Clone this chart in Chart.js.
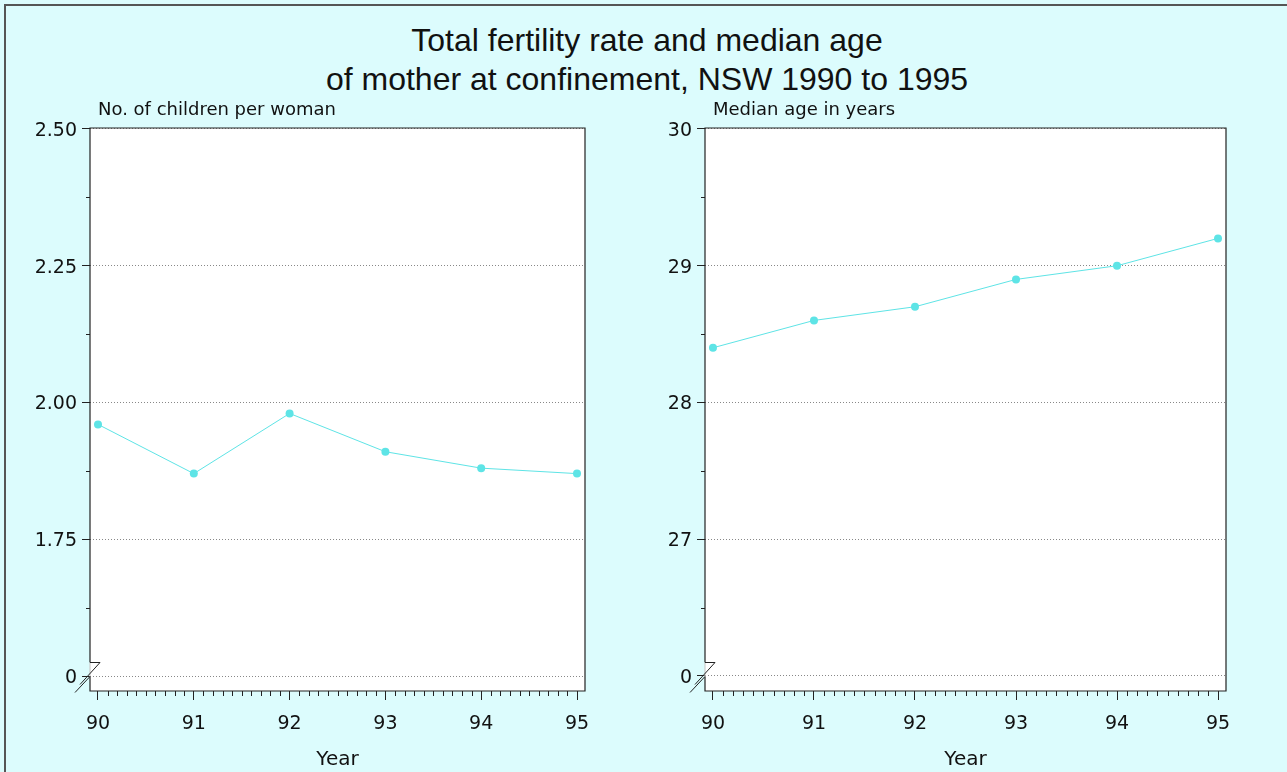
<!DOCTYPE html>
<html>
<head>
<meta charset="utf-8">
<title>Total fertility rate and median age</title>
<script src="https://cdn.jsdelivr.net/npm/chart.js@4.4.1/dist/chart.umd.min.js"></script>
<style>
  html, body { margin: 0; padding: 0; }
  body {
    width: 1287px; height: 772px; overflow: hidden; position: relative;
    background: #dcfcfd; font-family: "Liberation Sans", Arial, sans-serif;
  }
  #frame {
    position: absolute; left: 4px; top: 4px; width: 1300px; height: 800px;
    border-top: 2px solid #555; border-left: 2px solid #555;
  }
  #title {
    position: absolute; left: 0; top: 21px; width: 1294px;
    text-align: center; font-size: 32px; line-height: 39px; color: #111;
  }
  canvas { position: absolute; top: 95px; }
  #fertilityChart { left: 0; }
  #ageChart { left: 615px; }
</style>
</head>
<body>
<div id="frame"></div>
<div id="title">Total fertility rate and median age<br>of mother at confinement, NSW 1990 to 1995</div>
<canvas id="fertilityChart" width="640" height="677"></canvas>
<canvas id="ageChart" width="672" height="677"></canvas>
<script>
const years = [90, 91, 92, 93, 94, 95];
const fertilityRate = [1.96, 1.87, 1.98, 1.91, 1.88, 1.87];
const medianAge = [28.4, 28.6, 28.7, 28.9, 29.0, 29.2];

// the lowest tick is the axis break, printed as "0"
const fertilityTicks = [1.5, 1.75, 2.0, 2.25, 2.5];
const fertilityLabels = ["0", "1.75", "2.00", "2.25", "2.50"];
const ageTicks = [26, 27, 28, 29, 30];
const ageLabels = ["0", "27", "28", "29", "30"];

const LINE_COLOR = "#5ee4e6";
const INK = "#222";
const TICK_FONT = { family: "DejaVu Sans", size: 19 };

// white plot area, frame, minor ticks, axis break and the small axis caption
const panelDecor = {
  id: "panelDecor",
  beforeDraw(chart) {
    const { ctx, chartArea: a } = chart;
    ctx.save();
    ctx.fillStyle = "#fff";
    ctx.fillRect(a.left, a.top, a.right - a.left, a.bottom - a.top);
    ctx.restore();
  },
  afterDraw(chart, args, opts) {
    const { ctx, chartArea: a, scales } = chart;
    const L = a.left;
    const y0 = Math.round(scales.y.getPixelForValue(opts.ticks[0])) + 0.5;
    const gapTop = y0 - 14;

    ctx.save();
    ctx.strokeStyle = INK;
    ctx.lineWidth = 1.2;

    // frame, left side broken near the bottom
    ctx.beginPath();
    ctx.moveTo(L, gapTop);
    ctx.lineTo(L, a.top);
    ctx.lineTo(a.right, a.top);
    ctx.lineTo(a.right, a.bottom);
    ctx.lineTo(L, a.bottom);
    ctx.lineTo(L, y0);
    ctx.stroke();

    ctx.strokeStyle = "#ccc";
    ctx.beginPath();
    ctx.moveTo(L, gapTop);
    ctx.lineTo(L, y0);
    ctx.stroke();

    // break marks
    ctx.strokeStyle = INK;
    ctx.lineWidth = 1;
    ctx.beginPath();
    ctx.moveTo(L, gapTop);
    ctx.lineTo(L + 10, gapTop);
    ctx.lineTo(L - 10, y0 + 8);
    ctx.moveTo(L, y0);
    ctx.lineTo(L - 15, y0 + 16);
    ctx.stroke();

    // minor ticks
    ctx.beginPath();
    for (let i = 900; i < 950; i++) {
      if (i % 10 === 0) continue;
      const x = Math.round(scales.x.getPixelForValue(i / 10)) + 0.5;
      ctx.moveTo(x, a.bottom);
      ctx.lineTo(x, a.bottom + 5);
    }
    opts.ticks.slice(1).forEach((t, i) => {
      const y = Math.round(scales.y.getPixelForValue((t + opts.ticks[i]) / 2)) + 0.5;
      ctx.moveTo(L, y);
      ctx.lineTo(L - 4, y);
    });
    ctx.stroke();

    ctx.fillStyle = "#111";
    ctx.font = "18px 'DejaVu Sans'";
    ctx.textBaseline = "alphabetic";
    ctx.fillText(opts.caption, L + 8, a.top - 13);
    ctx.restore();
  },
};

function makePanel(canvasId, cfg) {
  const canvas = document.getElementById(canvasId);
  const ctx = canvas.getContext("2d");

  return new Chart(ctx, {
    type: "line",
    data: {
      datasets: [
        {
          data: years.map((yr, i) => ({ x: yr, y: cfg.values[i] })),
          borderColor: LINE_COLOR,
          backgroundColor: LINE_COLOR,
          borderWidth: 1,
          pointRadius: 4,
          pointBorderWidth: 0,
          tension: 0,
          fill: false,
        },
      ],
    },
    options: {
      responsive: false,
      animation: false,
      devicePixelRatio: 1,
      layout: { padding: { top: 33, right: cfg.padRight, left: 0, bottom: 0 } },
      plugins: {
        legend: { display: false },
        tooltip: { enabled: false },
        panelDecor: { caption: cfg.caption, ticks: cfg.ticks },
      },
      scales: {
        x: {
          type: "linear",
          min: cfg.xMin,
          max: cfg.xMax,
          afterBuildTicks: (s) => { s.ticks = years.map((v) => ({ value: v })); },
          afterFit: (s) => { s.height = 81; },
          border: { display: false },
          grid: { drawOnChartArea: false, tickLength: 9, tickColor: INK, tickWidth: 1 },
          ticks: {
            autoSkip: false,
            maxRotation: 0,
            color: "#111",
            font: TICK_FONT,
            padding: 13,
            callback: (v) => String(v),
          },
          title: {
            display: true,
            text: "Year",
            color: "#111",
            font: { family: "DejaVu Sans", size: 20 },
            padding: { top: 0, bottom: 0 },
          },
        },
        y: {
          min: cfg.yMin,
          max: cfg.yMax,
          afterBuildTicks: (s) => { s.ticks = cfg.ticks.map((v) => ({ value: v })); },
          afterFit: (s) => { s.width = 90; },
          border: { display: false, dash: [1, 2] },
          grid: {
            color: "#888",
            tickBorderDash: [],
            tickColor: INK,
            tickLength: 8,
            tickWidth: 1,
          },
          ticks: {
            color: "#111",
            font: TICK_FONT,
            padding: 5,
            labelOffset: 2,
            callback: (v, i) => cfg.labels[i],
          },
        },
      },
    },
    plugins: [panelDecor],
  });
}

makePanel("fertilityChart", {
  values: fertilityRate,
  ticks: fertilityTicks,
  labels: fertilityLabels,
  caption: "No. of children per woman",
  yMin: 1.4726,
  yMax: 2.5018,
  xMin: 89.9165,
  xMax: 95.0835,
  padRight: 55,
});

makePanel("ageChart", {
  values: medianAge,
  ticks: ageTicks,
  labels: ageLabels,
  caption: "Median age in years",
  yMin: 25.89,
  yMax: 30.0073,
  xMin: 89.921,
  xMax: 95.079,
  padRight: 61,
});
</script>
</body>
</html>
